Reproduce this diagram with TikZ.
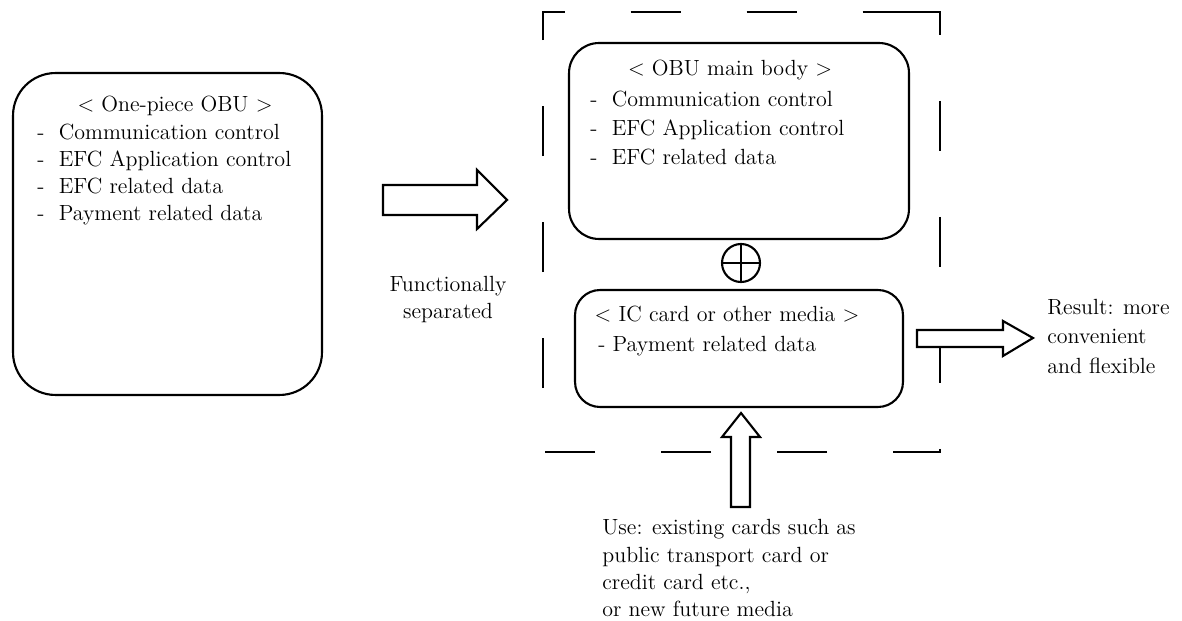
\documentclass[tikz,border=0pt]{standalone}
\usepackage{tikz}
\tikzset{
  box/.style={draw,line width=1.2pt,rounded corners=#1,inner sep=0pt},
  head/.style={inner sep=0pt,anchor=base,font=\fontsize{12.5}{15}\selectfont},
  list/.style={inner sep=0pt,align=left,anchor=north west,font=\fontsize{12.5}{#1}\selectfont},
  fatarrow/.style={draw,line width=1.2pt,fill=white,line join=miter},
}
\begin{document}
\begin{tikzpicture}[x=0.02cm,y=-0.02cm]
\useasboundingbox (0,0) rectangle (1182,621);
% frame round the two separated parts
\draw [line width=1.2pt,dash pattern=on 1cm off 1.32cm] (913,12) -- (940,12) -- (940,452) -- (543,452) -- (543,12) -- cycle;
% boxes
\node [box=0.85cm,minimum width=6.18cm,minimum height=6.44cm] (onepiece) at (167.5,234) {};
\node [box=0.6cm,minimum width=6.8cm,minimum height=3.92cm] (mainbody) at (739,141) {};
\node [box=0.5cm,minimum width=6.56cm,minimum height=2.34cm] (iccard) at (739,348.5) {};
\node [draw,line width=1.2pt,circle,minimum size=0.76cm,inner sep=0pt] (plus) at (741,263) {};
\draw [line width=1.2pt] (plus.north) -- (plus.south);
\draw [line width=1.2pt] (plus.west) -- (plus.east);
% texts
\node [head] (onepiecehead) at (175,112) {< One-piece OBU >};
\node [list=15.3pt] (onepiecelist) at (37,124) {-~ Communication control\\-~ EFC Application control\\-~ EFC related data\\-~ Payment related data};
\node [head] (mainbodyhead) at (730,76) {< OBU main body >};
\node [list=16.4pt] (mainbodylist) at (590,91) {-~ Communication control\\-~ EFC Application control\\-~ EFC related data};
\node [head] (iccardhead) at (727,321) {< IC card or other media >};
\node [list=16pt] (iccardlist) at (598,336) {- Payment related data};
\node [list=15.3pt,align=center,anchor=north] (separated) at (448,276) {Functionally\\separated};
\node [list=16.7pt] (result) at (1047,299) {Result: more\\convenient\\and flexible};
\node [list=15.6pt] (use) at (602,519) {Use: existing cards such as\\public transport card or\\credit card etc.,\\or new future media};
% fat arrows
\draw [fatarrow] (383,185) -- (477,185) -- (477,170) -- (507,200) -- (477,229) -- (477,215) -- (383,215) -- cycle;
\draw [fatarrow] (917,330) -- (1003,330) -- (1003,321) -- (1033,338) -- (1003,356) -- (1003,347) -- (917,347) -- cycle;
\draw [fatarrow] (731,507) -- (731,437) -- (722,437) -- (741,413) -- (760,437) -- (750,437) -- (750,507) -- cycle;
\end{tikzpicture}
\end{document}
